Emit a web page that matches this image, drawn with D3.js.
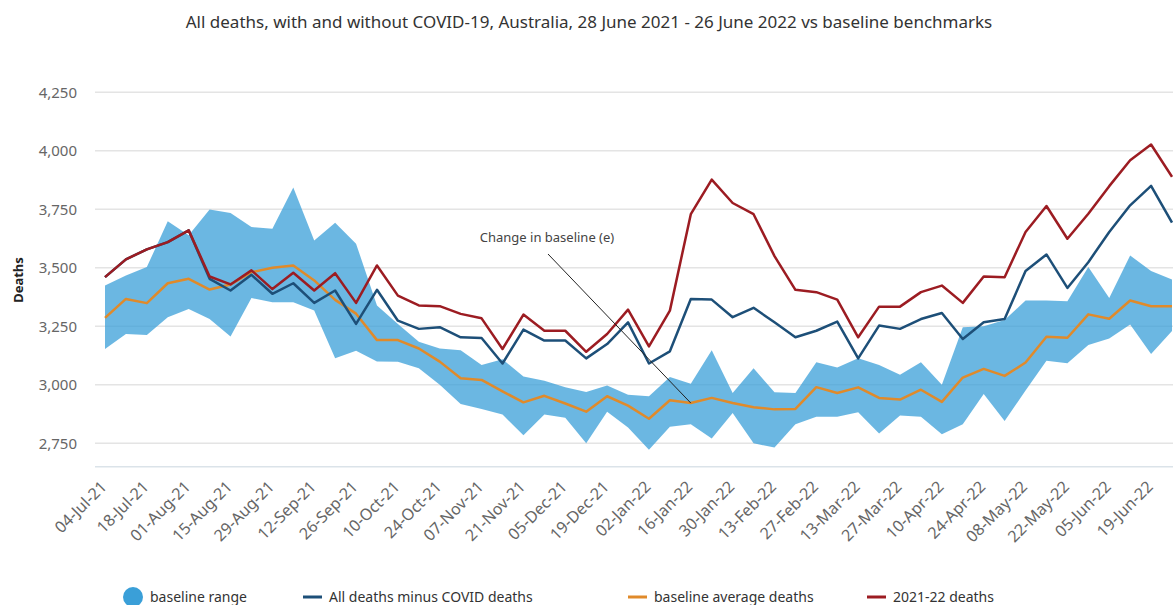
<!DOCTYPE html>
<html>
<head>
<meta charset="utf-8">
<script src="https://cdn.jsdelivr.net/npm/d3@7"></script>
<style>
    body { margin: 0; background: #fff; font-family: "Noto Sans", "Open Sans", sans-serif; }
    #chart-area { width: 1173px; height: 605px; }
    .grid line { stroke: #e4e4e4; stroke-width: 1.5; }
    .axis text { fill: #666; }
</style>
</head>
<body>
<div id="chart-area"></div>
<script>

// week ending dates
let weeks = ["04-Jul-21", "11-Jul-21", "18-Jul-21", "25-Jul-21", "01-Aug-21", "08-Aug-21", "15-Aug-21", "22-Aug-21",
    "29-Aug-21", "05-Sep-21", "12-Sep-21", "19-Sep-21", "26-Sep-21", "03-Oct-21", "10-Oct-21", "17-Oct-21",
    "24-Oct-21", "31-Oct-21", "07-Nov-21", "14-Nov-21", "21-Nov-21", "28-Nov-21", "05-Dec-21", "12-Dec-21",
    "19-Dec-21", "26-Dec-21", "02-Jan-22", "09-Jan-22", "16-Jan-22", "23-Jan-22", "30-Jan-22", "06-Feb-22",
    "13-Feb-22", "20-Feb-22", "27-Feb-22", "06-Mar-22", "13-Mar-22", "20-Mar-22", "27-Mar-22", "03-Apr-22",
    "10-Apr-22", "17-Apr-22", "24-Apr-22", "01-May-22", "08-May-22", "15-May-22", "22-May-22", "29-May-22",
    "05-Jun-22", "12-Jun-22", "19-Jun-22", "26-Jun-22"];

let rangeHigh = [3424, 3467, 3503, 3699, 3639, 3749, 3734, 3674, 3667, 3843, 3617, 3693, 3603, 3339, 3260, 3184,
    3155, 3148, 3085, 3109, 3035, 3017, 2990, 2969, 2997, 2958, 2951, 3033, 3004, 3148, 2965, 3071,
    2968, 2965, 3096, 3074, 3113, 3085, 3043, 3096, 3000, 3246, 3250, 3277, 3360, 3360, 3357, 3503,
    3371, 3553, 3486, 3450];

let rangeLow = [3153, 3217, 3213, 3289, 3324, 3281, 3206, 3371, 3353, 3353, 3317, 3113, 3146, 3100, 3099, 3071,
    3000, 2918, 2897, 2873, 2784, 2873, 2859, 2750, 2885, 2817, 2722, 2821, 2831, 2770, 2880, 2750,
    2732, 2831, 2863, 2863, 2883, 2792, 2869, 2863, 2789, 2831, 2961, 2845, 2976, 3103, 3092, 3170,
    3198, 3258, 3132, 3230];

let baselineAvg = [3286, 3367, 3349, 3434, 3453, 3407, 3429, 3481, 3500, 3510, 3446, 3363, 3304, 3191, 3191, 3155,
    3099, 3028, 3021, 2972, 2925, 2953, 2920, 2885, 2951, 2911, 2855, 2934, 2922, 2944, 2922, 2904,
    2895, 2897, 2990, 2965, 2989, 2944, 2937, 2979, 2927, 3031, 3068, 3038, 3095, 3205, 3201, 3301,
    3282, 3360, 3336, 3336];

let minusCovid = [3460, 3536, 3579, 3610, 3660, 3453, 3403, 3470, 3389, 3434, 3350, 3403, 3260, 3406, 3274, 3239,
    3246, 3203, 3200, 3091, 3236, 3189, 3189, 3113, 3174, 3267, 3091, 3143, 3367, 3364, 3289, 3329,
    3267, 3203, 3231, 3270, 3113, 3253, 3239, 3281, 3307, 3196, 3267, 3281, 3486, 3557, 3414, 3524,
    3653, 3767, 3850, 3693];

let deaths2122 = [3460, 3536, 3579, 3610, 3660, 3463, 3429, 3489, 3409, 3479, 3403, 3477, 3350, 3510, 3381, 3339,
    3336, 3303, 3284, 3153, 3300, 3231, 3231, 3141, 3217, 3321, 3164, 3317, 3729, 3877, 3777, 3729,
    3550, 3406, 3396, 3364, 3203, 3334, 3334, 3396, 3424, 3350, 3463, 3460, 3653, 3764, 3624, 3731,
    3849, 3960, 4027, 3889];

let yTicks = [2750, 3000, 3250, 3500, 3750, 4000, 4250];

let legendItems = [
    {label: "baseline range", color: "#3a9fd8", type: "dot", x: 133},
    {label: "All deaths minus COVID deaths", color: "#1d4f78", type: "line", x: 303},
    {label: "baseline average deaths", color: "#e08a2a", type: "line", x: 628},
    {label: "2021-22 deaths", color: "#9c1c22", type: "line", x: 867}
];


let width = 1173, height = 605;

let svg = d3.select("#chart-area").append("svg")
    .attr("width", width)
    .attr("height", height);

// title
svg.append("text")
    .attr("x", 589)
    .attr("y", 28)
    .attr("text-anchor", "middle")
    .style("font-size", "17px")
    .style("fill", "#333")
    .text("All deaths, with and without COVID-19, Australia, 28 June 2021 - 26 June 2022 vs baseline benchmarks");

// scales
let x = d3.scalePoint()
    .domain(weeks)
    .range([105, 1172]);

let y = d3.scaleLinear()
    .domain([2650, 4250])
    .range([466.7, 92.3]);

// gridlines
svg.append("g")
    .attr("class", "grid")
    .selectAll("line")
    .data(yTicks)
    .enter().append("line")
    .attr("x1", 95)
    .attr("x2", width)
    .attr("y1", d => y(d))
    .attr("y2", d => y(d));

// bottom axis line
svg.append("line")
    .attr("x1", 95)
    .attr("x2", width)
    .attr("y1", y(2650))
    .attr("y2", y(2650))
    .style("stroke", "#dbe3e9")
    .style("stroke-width", 1.5);

// y axis labels
let yAxis = d3.axisLeft(y)
    .tickValues(yTicks)
    .tickFormat(d3.format(","))
    .tickSize(0)
    .tickPadding(0);

svg.append("g")
    .attr("class", "axis y-axis")
    .attr("transform", "translate(77,0)")
    .call(yAxis)
    .call(g => g.select(".domain").remove())
    .selectAll("text")
    .style("font-size", "15px")
    .style("font-family", "'Noto Sans', sans-serif");

svg.append("text")
    .attr("transform", "translate(23,280) rotate(-90)")
    .attr("text-anchor", "middle")
    .style("font-size", "13px")
    .style("font-weight", "bold")
    .style("fill", "#222")
    .text("Deaths");

// x axis labels every 2 weeks
let xAxis = d3.axisBottom(x)
    .tickValues(weeks.filter((d, i) => i % 2 === 0))
    .tickSize(0)
    .tickPadding(0);

svg.append("g")
    .attr("class", "axis x-axis")
    .attr("transform", "translate(0,481)")
    .call(xAxis)
    .call(g => g.select(".domain").remove())
    .selectAll("text")
    .style("font-size", "16px")
    .style("font-family", "'Noto Sans', sans-serif")
    .style("text-anchor", "end")
    .attr("dx", "-0.2em")
    .attr("dy", "0.4em")
    .attr("transform", "rotate(-45)");

// baseline range area
let area = d3.area()
    .x((d, i) => x(weeks[i]))
    .y0((d, i) => y(rangeLow[i]))
    .y1((d, i) => y(rangeHigh[i]));

svg.append("path")
    .datum(rangeHigh)
    .attr("d", area)
    .style("fill", "#3a9fd8")
    .style("fill-opacity", 0.75);

let line = d3.line()
    .x((d, i) => x(weeks[i]))
    .y(d => y(d));

[[baselineAvg, "#e08a2a"], [minusCovid, "#1d4f78"], [deaths2122, "#9c1c22"]].forEach(s => {
    svg.append("path")
        .datum(s[0])
        .attr("d", line)
        .style("fill", "none")
        .style("stroke", s[1])
        .style("stroke-width", 2.5)
        .style("stroke-linejoin", "round");
});

// annotation
let noteIdx = weeks.indexOf("16-Jan-22");
svg.append("line")
    .attr("x1", 548)
    .attr("y1", 254)
    .attr("x2", x(weeks[noteIdx]))
    .attr("y2", y(baselineAvg[noteIdx]))
    .style("stroke", "#222")
    .style("stroke-width", 1);

svg.append("text")
    .attr("x", 547)
    .attr("y", 242)
    .attr("text-anchor", "middle")
    .style("font-size", "13px")
    .style("fill", "#444")
    .text("Change in baseline (e)");

// legend
let legend = svg.append("g")
    .attr("transform", "translate(0,597)");

legendItems.forEach(d => {
    if (d.type === "dot") {
        legend.append("circle")
            .attr("cx", d.x)
            .attr("cy", 0)
            .attr("r", 10)
            .style("fill", d.color);
    } else {
        legend.append("line")
            .attr("x1", d.x)
            .attr("x2", d.x + 19)
            .attr("y1", 0)
            .attr("y2", 0)
            .style("stroke", d.color)
            .style("stroke-width", 3);
    }
    legend.append("text")
        .attr("x", d.type === "dot" ? d.x + 17 : d.x + 26)
        .attr("y", 5)
        .style("font-size", "14px")
        .style("fill", "#333")
        .text(d.label);
});

</script>
</body>
</html>
